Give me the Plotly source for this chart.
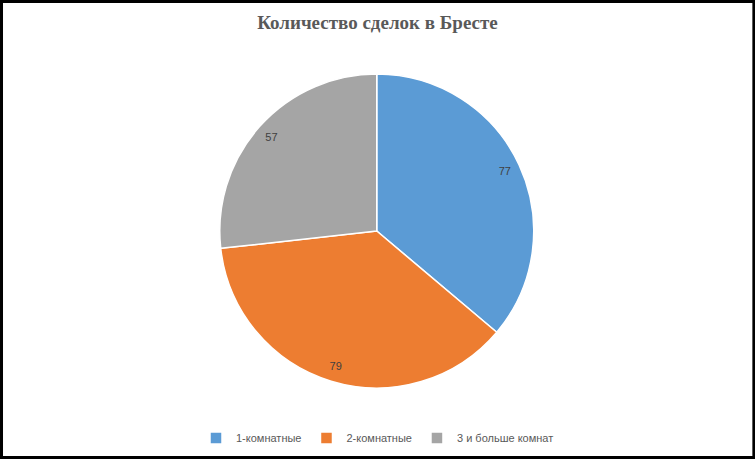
import plotly.graph_objects as go

labels = ["1-комнатные", "2-комнатные", "3 и больше комнат"]
deals = [77, 79, 57]
colors = ["#5B9BD5", "#ED7D31", "#A5A5A5"]

pie_domain = dict(x=[0.291, 0.707], y=[0.1565, 0.839])

fig = go.Figure()

# main pie (colours + legend)
fig.add_trace(go.Pie(
    labels=labels,
    values=deals,
    sort=False,
    direction="clockwise",
    rotation=0,
    marker=dict(colors=colors, line=dict(color="white", width=1.5)),
    textinfo="none",
    domain=pie_domain,
    hoverinfo="label+value+percent",
))

# transparent ring on top, only to put the value labels near the outer edge
fig.add_trace(go.Pie(
    labels=labels,
    values=deals,
    sort=False,
    direction="clockwise",
    rotation=0,
    hole=0.8,
    marker=dict(colors=["rgba(0,0,0,0)"] * 3, line=dict(width=0)),
    textinfo="value",
    textposition="inside",
    insidetextorientation="horizontal",
    textfont=dict(family="Liberation Sans, Arial", size=11, color="#404040"),
    domain=pie_domain,
    showlegend=False,
    hoverinfo="skip",
))

fig.update_layout(
    width=755,
    height=460,
    margin=dict(l=0, r=0, t=0, b=0),
    paper_bgcolor="white",
    title=dict(
        text="<b>Количество сделок в Бресте</b>",
        x=0.5, xanchor="center",
        y=0.952, yanchor="middle",
        font=dict(family="Liberation Serif, DejaVu Serif", size=19, color="#595959"),
    ),
    legend=dict(
        orientation="h",
        x=0.5, xanchor="center",
        y=0.048, yanchor="middle",
        font=dict(family="Liberation Sans, Arial", size=11, color="#595959"),
        itemwidth=30,
    ),
    shapes=[dict(
        type="rect", xref="paper", yref="paper",
        x0=0.002, x1=0.9985, y0=0.0055, y1=0.997,
        line=dict(color="black", width=3),
    )],
)

fig.write_html("out.html", config={"displayModeBar": False},
               post_script="document.body.style.margin='0';")
